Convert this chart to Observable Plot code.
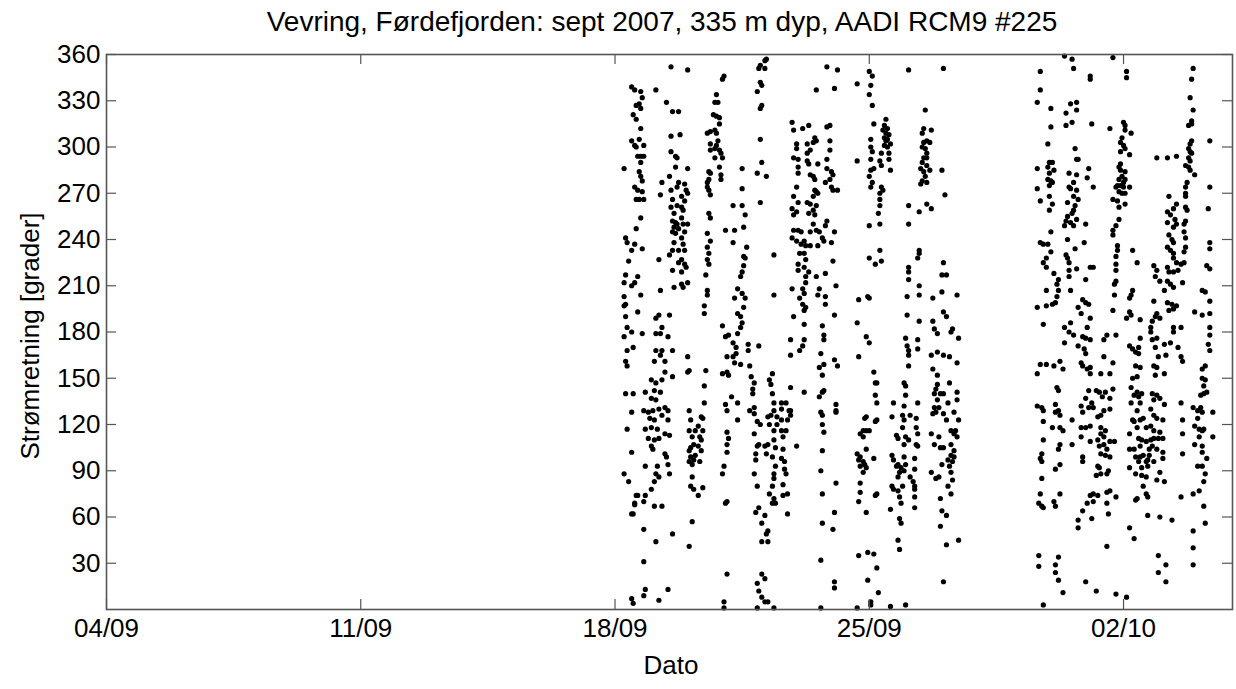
<!DOCTYPE html>
<html><head><meta charset="utf-8">
<script src="https://cdn.jsdelivr.net/npm/d3@7"></script>
<script src="https://cdn.jsdelivr.net/npm/@observablehq/plot@0.6"></script>
<style>
body{margin:0;background:#fff;}
#wrap{width:1236px;height:689px;position:relative;font-family:"Liberation Sans",Arial,Helvetica,sans-serif;background:#fff;color:#000;}
.lbl{position:absolute;white-space:nowrap;line-height:1;}
#title{left:662px;top:22px;font-size:28px;transform:translate(-50%,-50%);}
#xlabel{left:671px;top:665px;font-size:26px;transform:translate(-50%,-50%);}
#ylabel{left:30px;top:336px;font-size:26px;transform:translate(-50%,-50%) rotate(-90deg);}
#chart{position:absolute;left:0;top:40px;}
</style></head><body>
<div id="wrap"><div id="chart"></div><div id="title" class="lbl"></div><div id="xlabel" class="lbl"></div><div id="ylabel" class="lbl"></div></div>
<script>
const titleText = "Vevring, Førdefjorden: sept 2007, 335 m dyp, AADI RCM9 #225";
const xLabel = "Dato";
const yLabel = "Strømretning [grader]";
const xTickDates = ["2007-09-04","2007-09-11","2007-09-18","2007-09-25","2007-10-02"];
const xDomain = ["2007-09-04","2007-10-05"];
const yTicks = [30,60,90,120,150,180,210,240,270,300,330,360];
const yDomain = [0,360];
const seriesStart = "2007-09-18"; // hours below are counted from this date

// [hours since seriesStart, direction in degrees]
const colA = [[11,339],[13,337],[17,336],[18,332],[16,328],[14,327],[17,325],[12,321],[14,318],[17,312],[16,305],[11,304],[13,301],[14,300],[19,301],[15,294],[17,294],[19,294],[17,290],[6,286],[16,284],[17,281],[18,278],[13,274],[15,272],[18,271],[14,266],[16,266],[19,266],[17,254],[14,247],[7,241],[8,238],[13,237],[11,233],[18,234],[9,226],[7,217],[6,212],[11,210],[15,216],[13,212],[17,204],[6,203],[6,197],[7,198],[15,193],[7,190],[8,183],
[6,177],[11,180],[8,168],[12,170],[7,161],[8,158],[7,140],[12,140],[11,128],[8,117],[11,102],[6,88],[9,83],[13,68],[11,62],[12,62],[14,74],[19,9],[11,7],[12,4]];
const colB = [[37,352],[48,350],[27,337],[34,329],[38,323],[42,323],[37,307],[43,308],[37,297],[40,294],[41,293],[40,287],[48,286],[36,281],[31,277],[42,277],[46,276],[41,274],[37,272],[47,272],[48,270],[30,269],[44,268],[38,266],[46,265],[41,262],[37,261],[44,261],[45,259],[39,257],[44,254],[38,252],[40,251],[41,250],[45,250],[48,250],[39,248],[42,247],[38,245],[46,245],[40,244],[44,241],[39,238],[45,237],[38,233],[42,233],[46,233],[29,227],[36,230],[44,227],[42,225],[46,224],[47,222],[38,220],[44,219],[48,212],[45,209],[39,209],[30,207],[44,211],[27,189],[29,191],[36,191],[31,183],
[18,179],[27,179],[30,179],[35,177],[27,168],[31,168],[38,168],[33,161],[26,161],[30,165],[33,154],[24,149],[27,147],[31,149],[38,151],[20,141],[26,142],[30,141],[24,137],[27,136],[19,129],[22,128],[25,129],[29,130],[33,131],[35,129],[31,126],[23,124],[26,123],[35,123],[20,117],[24,118],[28,117],[33,114],[36,113],[22,111],[26,110],[24,106],[25,104],[29,111],[33,101],[34,99],[20,93],[28,93],[35,94],[27,88],[29,86],[36,88],[26,83],[24,78],[20,74],[15,74],[19,70],[26,67],[31,67],[13,69],[19,52],[27,44],[38,49],[19,31],[20,13],[35,13],[29,6]];
const colC = [[72,346],[71,344],[67,334],[66,329],[68,329],[65,321],[67,320],[69,319],[69,315],[61,309],[66,311],[63,310],[67,309],[68,304],[63,302],[67,301],[66,299],[69,298],[70,296],[63,298],[71,293],[66,293],[69,287],[62,284],[63,283],[70,282],[62,279],[61,277],[61,274],[62,272],[63,269],[70,279],[62,257],[63,254],[61,244],[63,239],[61,235],[62,231],[61,227],[62,224],[60,217],[61,207],[61,204],[59,197],[59,192],
[48,164],[48,154],[49,155],[60,155],[59,145],[59,134],[49,129],[50,123],[57,125],[58,124],[55,119],[53,116],[58,116],[49,116],[51,112],[56,112],[57,110],[52,107],[50,105],[49,103],[55,106],[57,103],[53,100],[50,99],[52,97],[51,94],[56,96],[49,96],[51,86],[58,79],[50,80],[52,78],[55,74],[51,57],[49,41]];
const colD = [[84,286],[84,273],[78,262],[84,262],[86,256],[85,248],[73,246],[79,246],[78,238],[87,235],[85,229],[86,228],[85,223],[84,219],[83,216],[81,208],[79,202],[84,205],[86,202],[85,196],[81,192],[83,190],[84,186],[83,183],[71,184],
[73,177],[75,178],[81,179],[78,173],[80,170],[74,164],[78,164],[80,166],[79,160],[83,159],[74,154],[71,153],[75,152],[89,158],[88,168],[88,172],[95,171],[90,151],[92,147],[91,143],[77,138],[74,129],[81,134],[81,123],[73,133],[74,115],[75,111],[74,107],[74,102],[72,93],[71,88],[74,70],[73,69],[74,23],[72,5],[72,1]];
const colE = [[100,357],[99,356],[96,353],[95,351],[99,351],[96,342],[97,340],[94,336],[97,327],[96,325],[96,305],[97,290],[94,283],[100,281],[96,264],[105,230],[105,204],
[91,140],[89,129],[92,131],[92,127],[94,122],[96,120],[101,125],[103,126],[105,129],[110,130],[107,125],[110,123],[102,120],[107,120],[105,116],[110,116],[113,116],[111,112],[105,110],[101,107],[95,107],[92,114],[99,106],[106,105],[111,104],[114,123],[115,129],[113,134],[110,134],[105,134],[104,140],[103,146],[104,153],[102,149],[94,106],[93,101],[100,101],[93,97],[104,99],[110,98],[112,96],[106,93],[112,91],[113,88],[105,88],[105,85],[104,80],[92,88],[94,80],[111,81],[114,75],[111,74],[105,72],[102,75],[104,69],[95,66],[93,63],[99,61],[97,56],[101,51],[100,49],[97,44],[101,44],[114,62],[106,69],[97,23],[99,20],[94,17],[95,12],[97,8],[99,5],[94,1],[105,1],[101,5]];
const colF = [[117,316],[118,311],[124,312],[128,314],[140,313],[142,314],[120,302],[120,299],[118,293],[121,292],[127,302],[132,306],[131,303],[133,304],[127,296],[129,298],[127,291],[128,289],[134,289],[142,304],[142,298],[140,292],[121,287],[121,283],[129,282],[131,281],[132,279],[140,286],[143,284],[144,282],[142,279],[139,277],[143,274],[144,272],[147,272],[132,272],[133,271],[134,270],[131,268],[120,274],[118,268],[121,264],[117,260],[120,258],[118,256],[127,264],[129,263],[133,262],[131,259],[128,257],[132,256],[118,246],[121,246],[123,245],[117,241],[120,239],[125,239],[129,245],[133,246],[135,245],[131,250],[140,252],[139,249],[145,245],[137,241],[138,239],[143,238],[123,237],[126,236],[129,236],[134,236],[122,231],[125,231],[126,227],[121,224],[125,222],[128,219],[126,216],[126,212],[121,220],[144,226],[133,216],[139,218],[146,210],[117,208],[124,208],[125,205],[122,202],[124,198],[135,208],[134,204],[139,203],[139,198],[126,196],[125,194],[145,191],[125,185],[137,184],[118,190],[133,337],[140,352],[147,350],[145,338],
[116,175],[122,168],[124,171],[125,175],[116,165],[116,144],[125,141],[116,129],[116,126],[120,106],[138,178],[138,175],[136,166],[138,159],[135,157],[137,152],[138,142],[137,141],[135,138],[136,128],[137,126],[137,120],[138,115],[145,162],[147,158],[146,133],[146,129],[146,128],[137,103],[136,90],[137,75],[146,82],[145,63],[137,56],[144,52],[136,32],[145,18],[145,14],[136,1]];
const colG = [[168,349],[170,346],[160,341],[169,340],[168,334],[170,327],[171,315],[179,318],[178,314],[177,311],[180,312],[179,309],[181,308],[178,306],[180,305],[179,304],[182,302],[178,301],[180,300],[169,305],[169,300],[170,297],[169,292],[175,291],[176,288],[171,286],[182,285],[181,296],[181,292],[176,296],[160,291],[169,285],[168,281],[170,277],[169,274],[176,274],[175,270],[177,272],[175,266],[175,262],[174,257],[168,249],[175,250],[175,233],[168,228],[172,224],[176,226],[161,201],[167,203],[168,202],[160,186],
[166,177],[168,173],[161,164],[171,154],[172,147],[173,147],[172,139],[173,134],[166,125],[165,124],[164,116],[162,114],[166,116],[168,116],[164,112],[166,104],[160,101],[162,99],[161,97],[164,96],[165,94],[162,93],[166,92],[164,89],[171,98],[173,123],[172,122],[162,82],[162,76],[161,70],[166,63],[173,75],[172,74],[161,35],[167,37],[171,36],[173,27],[167,19],[174,11],[160,1],[169,3],[169,5]];
const colH = [[194,350],[217,351],[205,324],[204,312],[209,311],[203,309],[206,304],[204,303],[208,303],[203,300],[205,299],[206,296],[204,293],[206,293],[203,290],[206,288],[202,286],[208,285],[204,284],[205,281],[203,278],[202,276],[206,277],[216,285],[218,269],[194,262],[201,258],[206,263],[209,260],[194,250],[201,233],[201,231],[200,228],[194,222],[194,219],[194,214],[201,210],[217,225],[216,217],[219,217],[193,203],[201,204],[210,202],[216,206],[226,204],[193,191],[201,187],[210,187],[217,193],[219,190],[223,182],[211,182],
[192,176],[193,171],[194,168],[194,165],[194,158],[200,175],[200,169],[191,147],[192,145],[192,139],[191,132],[184,134],[200,134],[183,125],[190,126],[191,123],[190,118],[195,126],[199,124],[199,118],[200,114],[186,113],[187,111],[192,112],[194,110],[199,107],[200,106],[191,107],[183,100],[184,97],[186,93],[187,94],[189,92],[188,89],[187,86],[183,80],[184,78],[187,77],[188,73],[189,69],[191,99],[192,94],[191,90],[195,86],[197,83],[198,80],[198,78],[198,73],[190,80],[198,66],[182,65],[188,59],[189,56],[187,45],[188,39],[198,98],[198,91],[182,2],[192,3]];
const colI = [[213,179],[209,165],[213,167],[217,165],[221,164],[226,160],[227,176],[222,180],[210,156],[213,152],[213,146],[212,143],[211,140],[215,140],[217,140],[213,136],[220,134],[211,131],[214,131],[212,128],[210,127],[217,127],[219,123],[221,147],[226,141],[226,136],[224,128],[227,123],[225,116],[224,114],[222,116],[226,112],[209,114],[214,112],[211,107],[217,105],[215,105],[222,107],[224,103],[222,100],[224,99],[223,96],[220,97],[221,93],[222,89],[216,94],[214,86],[212,85],[220,80],[222,75],[223,84],[209,89],[215,72],[216,64],[219,61],[215,54],[227,45],[219,42],[217,18]];
const colJ = [[281,349],[281,337],[279,329],[288,325],[288,313],[286,302],[287,290],[289,290],[279,286],[286,287],[290,285],[287,283],[286,279],[288,278],[289,277],[287,275],[279,273],[281,265],[287,268],[289,263],[287,259],[288,245],[281,238],[286,237],[283,237],[288,232],[285,228],[283,225],[285,222],[290,218],[293,214],[292,211],[285,207],[293,207],[292,203],[289,198],[285,197],[279,196],[291,199],[283,185],
[297,173],[281,159],[285,159],[279,153],[290,158],[294,161],[296,156],[292,144],[293,142],[279,132],[282,131],[283,129],[291,133],[291,128],[293,129],[294,126],[283,122],[289,118],[294,118],[296,116],[283,110],[294,107],[293,104],[302,107],[282,101],[281,98],[282,96],[291,91],[294,94],[282,85],[281,75],[294,75],[280,69],[282,67],[283,66],[290,70],[291,67],[280,35],[280,28],[293,34],[291,29],[291,24],[293,19],[296,11],[283,3]];
const colK = [[297,359],[302,357],[303,351],[314,346],[314,344],[305,329],[301,328],[298,322],[305,324],[302,316],[298,314],[315,315],[304,299],[305,292],[306,292],[313,286],[300,283],[305,282],[312,280],[303,277],[300,274],[301,273],[305,272],[316,274],[299,264],[303,268],[306,266],[304,262],[303,259],[302,257],[299,255],[298,252],[301,251],[305,253],[311,250],[297,249],[303,249],[299,240],[310,238],[304,234],[298,230],[299,228],[300,225],[300,220],[305,221],[314,222],[316,222],[300,216],[311,214],[301,207],[309,201],[311,199],[313,198],[306,196],[308,192],[314,189],[301,186],[297,183],[312,183],
[300,180],[303,178],[309,177],[311,176],[314,175],[306,171],[310,169],[311,166],[308,160],[309,158],[314,157],[314,153],[323,164],[329,160],[321,153],[327,153],[313,142],[318,142],[320,141],[324,141],[311,137],[308,132],[315,134],[322,138],[327,137],[329,143],[309,128],[313,131],[316,131],[319,125],[321,126],[323,129],[327,130],[302,123],[308,118],[311,118],[314,119],[321,118],[324,116],[321,114],[323,112],[308,112],[314,109],[319,110],[323,107],[327,109],[330,109],[320,106],[325,104],[321,101],[324,100],[327,99],[309,99],[309,96],[319,93],[320,92],[318,87],[321,88],[325,88],[326,90],[316,75],[314,74],[319,74],[325,76],[327,77],[331,73],[312,69],[316,70],[325,69],[309,64],[315,59],[326,62],[306,58],[306,53],[325,41],[311,18],[318,12],[331,10],[338,8],[323,175],[331,178],[325,178],[312,156]];
const colL = [[329,358],[338,349],[338,345],[327,312],[336,316],[337,314],[337,311],[341,309],[335,306],[334,303],[336,301],[337,299],[334,297],[340,295],[334,289],[333,287],[334,285],[337,284],[335,281],[333,279],[337,279],[336,277],[332,275],[334,275],[331,274],[336,274],[340,274],[333,271],[335,270],[337,270],[329,266],[332,265],[337,263],[333,261],[333,253],[331,249],[329,246],[329,243],[332,236],[332,233],[331,229],[331,224],[331,220],[331,213],[330,211],[330,204],[342,207],[341,204],[340,202],[329,194],[340,193],[341,191],[342,233],[345,225],[347,188],[338,189],
[340,171],[342,169],[344,167],[346,166],[347,176],[346,170],[344,158],[347,157],[345,151],[342,150],[341,144],[345,141],[348,140],[343,139],[346,138],[341,134],[347,134],[345,129],[342,123],[343,122],[347,123],[349,124],[351,118],[345,118],[340,114],[346,111],[348,110],[351,109],[347,106],[340,104],[343,104],[344,99],[347,99],[349,100],[351,96],[346,96],[348,92],[352,93],[340,92],[344,88],[348,87],[351,86],[352,97],
[355,175],[357,170],[359,164],[364,165],[356,158],[358,157],[357,152],[363,153],[355,140],[358,139],[360,137],[356,136],[363,133],[354,130],[356,126],[358,124],[362,123],[354,119],[356,116],[360,115],[354,110],[356,111],[359,111],[362,111],[355,106],[353,104],[358,104],[362,102],[353,100],[356,96],[362,98],[360,89],[358,84],[363,83],[349,80],[351,75],[352,73],[344,71],[345,72],[352,61],[360,60],[368,58],[340,53],[343,46],[359,35],[359,24],[364,29],[364,18],[354,180],[358,176],[363,172],[367,173],[369,180],[372,170],[374,164],[375,161]];
const colM = [[358,293],[365,293],[371,294],[366,268],[371,263],[369,260],[365,258],[367,256],[365,251],[370,253],[371,250],[369,248],[377,252],[376,250],[366,243],[368,240],[369,238],[365,235],[367,233],[369,231],[369,228],[371,225],[374,224],[365,222],[366,219],[369,219],[372,220],[376,225],[377,235],[376,232],[356,223],[358,220],[357,216],[360,213],[365,213],[367,211],[369,209],[375,212],[363,207],[365,199],[368,198],[371,197],[366,194],[369,195],[356,200],[358,192],[355,187],[354,183],[369,183],[374,183],[377,268],[377,274],[378,259],[376,245],[377,241],[357,190],[360,189]];
const colN = [[382,351],[381,344],[380,332],[382,324],[381,317],[381,315],[379,314],[381,304],[380,302],[379,299],[380,297],[381,296],[379,293],[380,291],[377,288],[379,287],[380,285],[383,282],[378,277],[377,270],[377,261],[393,304],[393,274],[392,260],[393,238],[393,234],[391,223],[393,221],[388,207],[390,206],[383,193],[388,191],[393,192],[393,200],[393,183],
[393,178],[392,172],[393,168],[390,158],[388,156],[388,150],[390,149],[389,145],[387,139],[389,140],[391,141],[382,131],[385,129],[387,131],[388,128],[395,128],[385,124],[383,119],[386,117],[388,116],[389,117],[386,112],[383,107],[388,106],[388,102],[391,98],[385,93],[388,93],[390,88],[389,83],[386,77],[382,75],[374,134],[375,123],[375,114],[375,101],[374,73],[389,67],[390,56],[382,51],[382,40],[382,29],[395,112]];

document.getElementById("title").textContent = titleText;
document.getElementById("xlabel").textContent = xLabel;
document.getElementById("ylabel").textContent = yLabel;

const t0 = new Date(seriesStart + "T00:00:00Z").getTime();
const points = [colA,colB,colC,colD,colE,colF,colG,colH,colI,colJ,colK,colL,colM,colN]
  .flat().map(([h, d]) => ({time: new Date(t0 + h * 3600000), dir: d}));
const xTicks = xTickDates.map(d => new Date(d + "T00:00:00Z"));

const W = 1236, H = 649, mL = 106, mR = 4, mT = 14, mB = 80;
const pw = W - mL - mR, ph = H - mT - mB, tickLen = 10;
const axisColor = "#555";

const chart = Plot.plot({
  width: W, height: H,
  marginLeft: mL, marginRight: mR, marginTop: mT, marginBottom: mB,
  style: {fontFamily: "'Liberation Sans', Arial, Helvetica, sans-serif", fontSize: "26px", color: "#000", background: "#fff", overflow: "visible"},
  x: {type: "utc", domain: xDomain.map(d => new Date(d + "T00:00:00Z"))},
  y: {domain: yDomain},
  marks: [
    Plot.dot(points, {x: "time", y: "dir", r: 2.6, fill: "#000", stroke: "none"}),
    Plot.tickX(xTicks, {x: d => d, insetTop: ph - tickLen, stroke: axisColor, strokeWidth: 1.2}),
    Plot.tickX(xTicks, {x: d => d, insetBottom: ph - tickLen, stroke: axisColor, strokeWidth: 1.2}),
    Plot.tickY(yTicks, {y: d => d, insetRight: pw - tickLen, stroke: axisColor, strokeWidth: 1.2}),
    Plot.tickY(yTicks, {y: d => d, insetLeft: pw - tickLen, stroke: axisColor, strokeWidth: 1.2}),
    Plot.axisX({ticks: xTicks, tickFormat: d3.utcFormat("%d/%m"), tickSize: 0, tickPadding: 9, label: null, fill: "#000"}),
    Plot.axisY({ticks: yTicks, tickSize: 0, tickPadding: 6, label: null, fill: "#000"}),
    Plot.frame({stroke: axisColor, strokeWidth: 1.6})
  ]
});
document.getElementById("chart").appendChild(chart);
</script>
</body></html>
